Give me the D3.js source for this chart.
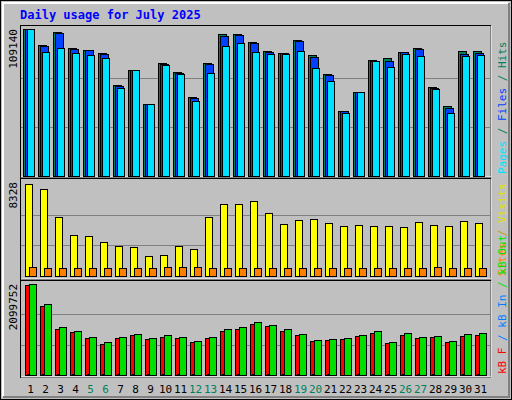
<!DOCTYPE html>
<html><head><meta charset="utf-8">
<script src="https://cdn.jsdelivr.net/npm/d3@7"></script>
<style>body{margin:0;background:#fff}</style>
</head><body>
<svg id="chart" width="512" height="400"></svg>
<script>
var days = d3.range(1, 32);
var weekend = [5, 6, 12, 13, 19, 20, 26, 27];
var hits = [109140,97270,106920,95040,93560,91330,67570,78700,53460,83900,77220,58660,83900,105430,105430,99490,92810,91330,100980,89840,75730,48260,62370,86130,87610,92070,95040,66080,51970,92810,92810];
var files = [109140,96530,106180,94300,93560,90590,66830,78700,53460,83160,76480,57920,83160,103950,104690,98750,92070,91330,100240,88360,74990,48260,62370,85390,85390,92070,94300,65340,50490,90590,91330];
var pages = [109140,92070,95040,91330,89840,87610,65340,78700,53460,82420,75730,55690,76480,96530,98750,92070,90590,90590,92810,80190,70540,46780,62370,85390,80930,90590,89100,64600,46780,89100,89840];
var visits = [8328,7875,5341,3711,3621,3078,2716,2625,1810,1901,2716,2444,5341,6518,6518,6789,5703,4707,5069,5160,4798,4526,4617,4526,4526,4436,4888,4617,4526,4979,4798];
var sites = [815,724,724,724,724,724,724,724,724,815,815,815,724,724,724,724,724,724,724,724,724,724,724,724,724,724,724,815,724,724,724];
var kbF = [2069000,1586200,1057500,988500,850600,712700,850600,919600,827600,873600,850600,758600,850600,1011500,1057500,1172400,1126500,1011500,919600,781600,804600,827600,896600,965500,735600,919600,850600,873600,758600,896600,919600];
var kbIn = [30000,20000,30000,20000,20000,20000,20000,20000,20000,20000,20000,20000,20000,30000,30000,20000,20000,20000,30000,20000,20000,10000,20000,20000,20000,20000,20000,20000,20000,20000,20000];
var kbOut = [2099752,1632200,1103500,1011500,873600,758600,873600,942500,850600,919600,873600,781600,873600,1057500,1103500,1218400,1149400,1057500,942500,804600,827600,850600,919600,1011500,758600,965500,873600,896600,781600,942500,965500];

var C = {hits:"#00805c", files:"#0040ff", pages:"#00e0ff", visits:"#ffff00", sites:"#ff8000", kbF:"#ff0000", kbIn:"#0080ff", kbOut:"#00e000"};
var font = "'DejaVu Sans Mono', monospace";
var svg = d3.select("#chart");

// background and frame
svg.append("rect").attr("x",0.5).attr("y",0.5).attr("width",511).attr("height",399).attr("fill","#c0c0c0").attr("stroke","#000");
svg.append("path").attr("d","M3,397V3H509").attr("fill","none").attr("stroke","#fff").attr("stroke-width",2);
svg.append("path").attr("d","M3,397H509V3").attr("fill","none").attr("stroke","#808080").attr("stroke-width",2);
svg.append("text").attr("x",20).attr("y",19).attr("fill","#0000ff").attr("font-family",font)
  .attr("font-weight","bold").attr("font-size",12).text("Daily usage for July 2025");

var x = d3.scaleBand().domain(days).range([22, 487]).padding(0);

var panels = [
  {top:25, bottom:177, y0:176, y1:29, max:109140, label:"109140",
   series:[{d:hits,c:C.hits,dx:1,w:8},{d:files,c:C.files,dx:3,w:8},{d:pages,c:C.pages,dx:5,w:7}],
   legend:[["Pages",C.pages],[" / ","#00805c"],["Files",C.files],[" / ","#00805c"],["Hits",C.hits]]},
  {top:178, bottom:279, y0:276, y1:184, max:8328, label:"8328",
   series:[{d:visits,c:C.visits,dx:3,w:7},{d:sites,c:C.sites,dx:7,w:7}],
   legend:[["Sites",C.sites],[" / ","#c0a000"],["Visits","#e0e000"]]},
  {top:280, bottom:377, y0:375, y1:284, max:2099752, label:"2099752",
   series:[{d:kbF,c:C.kbF,dx:3,w:5},{d:kbIn,c:C.kbIn,dx:5,w:2},{d:kbOut,c:C.kbOut,dx:7,w:7}],
   legend:[["kB F",C.kbF],[" / ",C.kbIn],["kB In",C.kbIn],[" / ",C.kbOut],["kB Out",C.kbOut]]}
];
// middle legend starts with "kB Out" text partially? keep own legend
panels.forEach(function(p) {
  var y = d3.scaleLinear().domain([0, p.max]).range([p.y0, p.y1]);
  svg.append("rect").attr("x",20.5).attr("y",p.top+0.5).attr("width",470).attr("height",p.bottom-p.top)
    .attr("fill","#c0c0c0").attr("stroke","#000");
  svg.append("path").attr("d","M21,"+(p.bottom)+"H491V"+(p.top+1)).attr("fill","none").attr("stroke","#fff");
  [1/3, 2/3].forEach(function(f) {
    var gy = Math.round(y(p.max * f)) + 0.5;
    svg.append("line").attr("x1",21).attr("x2",490).attr("y1",gy).attr("y2",gy).attr("stroke","#808080");
  });
  p.series.forEach(function(s) {
    svg.append("g").selectAll("rect").data(s.d).join("rect")
      .attr("x", function(d, i) { return x(days[i]) + s.dx + 0.5; })
      .attr("y", function(d) { return Math.round(y(d)) + 0.5; })
      .attr("width", s.w)
      .attr("height", function(d) { return p.y0 - Math.round(y(d)); })
      .attr("fill", s.c).attr("stroke", "#000");
  });
  svg.append("text").attr("transform","translate(17,"+(p.top+4)+") rotate(-90)")
    .attr("text-anchor","end").attr("font-family",font).attr("font-size",11).attr("fill","#000").text(p.label);
  var t = svg.append("text").attr("transform","translate(506,"+(p.bottom-3)+") rotate(-90)")
    .attr("font-family",font).attr("font-size",11);
  p.legend.forEach(function(l) { t.append("tspan").attr("fill", l[1]).text(l[0]); });
});

svg.append("g").selectAll("text").data(days).join("text")
  .attr("x", function(d) { return x(d) + x.bandwidth() / 2 + 1; })
  .attr("y", 393).attr("text-anchor","middle").attr("font-family",font).attr("font-size",11)
  .attr("fill", function(d) { return weekend.indexOf(d) >= 0 ? "#00805c" : "#000"; })
  .text(function(d) { return d; });
</script>
</body></html>
